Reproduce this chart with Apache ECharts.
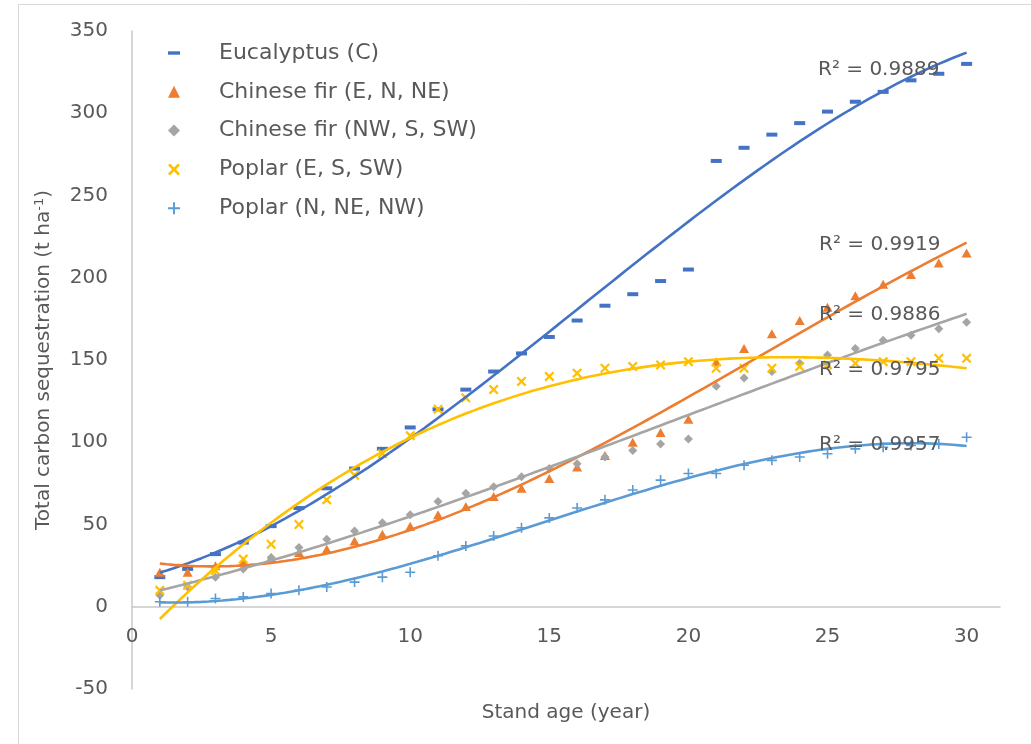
<!DOCTYPE html>
<html><head><meta charset="utf-8">
<script src="https://cdn.jsdelivr.net/npm/echarts@6/dist/echarts.min.js"></script>
<style>html,body{margin:0;padding:0;background:#fff}#c{width:1031px;height:744px}</style>
</head><body><div id="c"></div>
<script>
// ---- data ----
const ages = [1,2,3,4,5,6,7,8,9,10,11,12,13,14,15,16,17,18,19,20,21,22,23,24,25,26,27,28,29,30];
const seriesNames = ['Eucalyptus (C)', 'Chinese fir (E, N, NE)', 'Chinese fir (NW, S, SW)', 'Poplar (E, S, SW)', 'Poplar (N, NE, NW)'];
const eucalyptus = [18,23,32,39,49,60,72,84,96,109,120,132,143,154,164,174,183,190,198,205,271,279,287,294,301,307,313,320,324,330];
const firENNE    = [21,21,25,27,30,33,35,40,44,49,56,61,67,72,78,85,92,100,106,114,149,157,166,174,182,189,196,202,209,215];
const firNWSSW   = [7,12,18,23,30,36,41,46,51,56,64,69,73,79,84,87,91,95,99,102,134,139,143,148,153,157,162,165,169,173];
const poplarESSW = [10,13,22,29,38,50,65,80,93,104,120,127,132,137,140,142,145,146,147,149,145,145,145,146,147,148,149,149,151,151];
const poplarNNENW= [3,3,5,6,8,10,12,15,18,21,31,37,43,48,54,60,65,71,77,81,81,86,89,91,93,96,97,98,99,103];
const rSquared = ['0.9889', '0.9919', '0.9886', '0.9795', '0.9957'];
const xTicks = [0,5,10,15,20,25,30];
const yTicks = [-50,0,50,100,150,200,250,300,350];

// ---- styling ----
const colors = ['#4472C4', '#ED7D31', '#A5A5A5', '#FFC000', '#5B9BD5'];
const allValues = [eucalyptus, firENNE, firNWSSW, poplarESSW, poplarNNENW];
const FONT = 'DejaVu Sans';
const TXT = '#595959';
const symX = 'path://M0,1.6 L1.6,0 L5,3.4 L8.4,0 L10,1.6 L6.6,5 L10,8.4 L8.4,10 L5,6.6 L1.6,10 L0,8.4 L3.4,5 Z';
const symPlus = 'path://M4.2,0 L5.8,0 L5.8,4.2 L10,4.2 L10,5.8 L5.8,5.8 L5.8,10 L4.2,10 L4.2,5.8 L0,5.8 L0,4.2 L4.2,4.2 Z';
const symbols = ['rect', 'triangle', 'diamond', symX, symPlus];
const symbolSizes = [[11,4], [10,9], [9,9], [10,10], [10,10]];
const legendIcons = ['path://M0,0 M0,4.3 L12,4.3 L12,7.7 L0,7.7 Z M12,12', 'triangle', 'diamond', symX, symPlus];

// cubic polynomial trendline (least squares) computed from the data
function polyFit(xs, ys, deg) {
  const n = deg + 1;
  const A = [];
  for (let r = 0; r < n; r++) { A.push(new Array(n + 1).fill(0)); }
  for (let i = 0; i < xs.length; i++) {
    for (let r = 0; r < n; r++) {
      for (let c = 0; c < n; c++) A[r][c] += Math.pow(xs[i], r + c);
      A[r][n] += ys[i] * Math.pow(xs[i], r);
    }
  }
  for (let k = 0; k < n; k++) {
    let p = k;
    for (let r = k + 1; r < n; r++) if (Math.abs(A[r][k]) > Math.abs(A[p][k])) p = r;
    [A[k], A[p]] = [A[p], A[k]];
    for (let r = 0; r < n; r++) {
      if (r === k) continue;
      const f = A[r][k] / A[k][k];
      for (let c = k; c <= n; c++) A[r][c] -= f * A[k][c];
    }
  }
  return A.map((row, i) => row[n] / row[i]);
}
function trendData(ys) {
  const co = polyFit(ages, ys, 3);
  const out = [];
  const x0 = ages[0], x1 = ages[ages.length - 1];
  for (let x = x0; x <= x1 + 1e-9; x += 0.25) {
    let y = 0;
    for (let k = 0; k < co.length; k++) y += co[k] * Math.pow(x, k);
    out.push([x, y]);
  }
  return out;
}

const series = [];
allValues.forEach((vals, i) => {
  series.push({
    name: seriesNames[i], type: 'scatter',
    data: ages.map((a, j) => [a, vals[j]]),
    symbol: symbols[i], symbolSize: symbolSizes[i],
    itemStyle: { color: colors[i], opacity: 1 },
    z: 2
  });
});
allValues.forEach((vals, i) => {
  series.push({
    name: 'trend' + i, type: 'line',
    data: trendData(vals), showSymbol: false, symbol: 'none',
    lineStyle: { color: colors[i], width: 2.6 },
    itemStyle: { color: colors[i] },
    z: 3, silent: true
  });
});

const rPos = [[818, 70], [819, 245], [819, 315], [819, 370], [819, 445]];
const graphics = [
  { type: 'rect', shape: { x: 18.5, y: 4.5, width: 1200, height: 1000 }, style: { fill: 'none', stroke: '#D9D9D9', lineWidth: 1 }, z: -1, silent: true }
];
rSquared.forEach((r, i) => {
  graphics.push({
    type: 'text', x: rPos[i][0], y: rPos[i][1], z: 10,
    style: { text: 'R² = ' + r, fill: TXT, font: '20px "' + FONT + '"', verticalAlign: 'middle', align: 'left' }
  });
});

const GRID = { left: 132, right: 31, top: 31, bottom: 55 };
const chart = echarts.init(document.getElementById('c'), null, { renderer: 'canvas' });
chart.setOption({
  animation: false,
  backgroundColor: '#fff',
  textStyle: { fontFamily: FONT },
  grid: Object.assign({ containLabel: false, outerBoundsMode: 'none' }, GRID),
  legend: {
    orient: 'vertical', left: 163, top: 37,
    itemWidth: 12, itemHeight: 12, itemGap: 16.8,
    data: seriesNames.map((n, i) => ({ name: n, icon: legendIcons[i] })),
    textStyle: { fontFamily: FONT, fontSize: 22, color: TXT, lineHeight: 20, padding: [0, 0, 0, 34] },
    selectedMode: false
  },
  xAxis: {
    type: 'value', min: xTicks[0], max: 31.2, interval: 5, position: 'bottom', offset: 0,
    name: 'Stand age (year)', nameLocation: 'middle', nameGap: 96,
    nameTextStyle: { fontFamily: FONT, fontSize: 20, color: TXT },
    axisLine: { show: true, onZero: false, lineStyle: { color: '#C8C8C8', width: 1.5 } },
    axisTick: { show: false },
    splitLine: { show: false },
    axisLabel: { fontFamily: FONT, fontSize: 20, color: TXT, margin: 20, showMaxLabel: false,
      formatter: v => xTicks.indexOf(v) >= 0 ? String(v) : '' }
  },
  yAxis: {
    type: 'value', min: yTicks[0], max: yTicks[yTicks.length - 1], interval: 50,
    name: '{a|Total carbon sequestration (t ha}{s|-1}{a|)}', nameLocation: 'middle', nameGap: 78,
    nameTextStyle: { fontFamily: FONT, fontSize: 20, color: TXT,
      rich: { a: { fontFamily: FONT, fontSize: 20, color: TXT }, s: { fontFamily: FONT, fontSize: 13, color: TXT, verticalAlign: 'top', padding: [0, 0, 8, 0] } } },
    axisLine: { show: true, lineStyle: { color: '#C8C8C8', width: 1.5 } },
    axisTick: { show: false },
    splitLine: { show: false },
    axisLabel: { fontFamily: FONT, fontSize: 20, color: TXT, margin: 24 }
  },
  graphic: graphics,
  series: series
});
// move the x axis (line, labels, name) up to the y = 0 position
const zeroY = chart.convertToPixel({ yAxisIndex: 0 }, 0);
const bottomY = 744 - GRID.bottom;
chart.setOption({ xAxis: { offset: -(bottomY - zeroY) } });
</script>
</body></html>
